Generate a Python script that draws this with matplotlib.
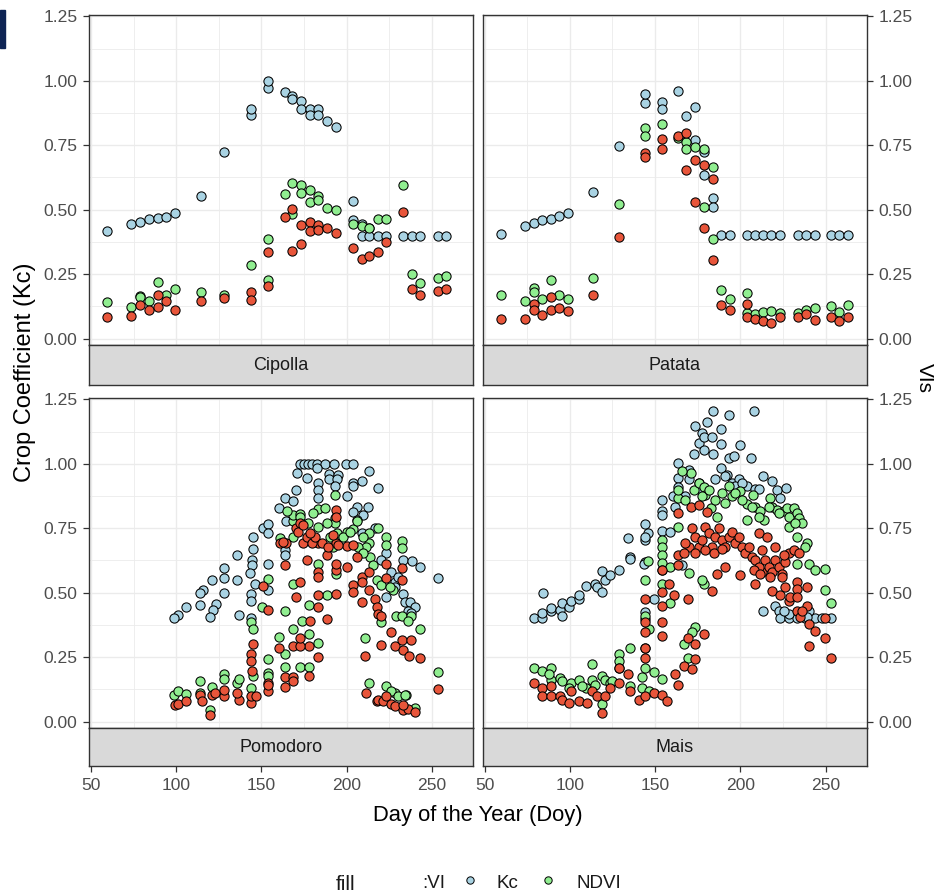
import matplotlib
matplotlib.use("Agg")
import matplotlib.pyplot as plt
from matplotlib.patches import Rectangle

plt.rcParams['font.family'] = ['Liberation Sans', 'DejaVu Sans']

# ---------------- data ----------------
crops = ["Cipolla", "Patata", "Pomodoro", "Mais"]
x_ticks = [50, 100, 150, 200, 250]
y_ticks = [0.0, 0.25, 0.5, 0.75, 1.0, 1.25]
y_tick_labels = ["0.00", "0.25", "0.50", "0.75", "1.00", "1.25"]
legend_labels = ["Kc", "NDVI"]

# Cipolla
cip_kc_doy = [59.4, 73.4, 78.5, 83.8, 89.1, 93.9, 99.2, 114.5, 128.3, 143.8, 143.8, 153.9, 153.9, 163.9, 168.2, 168.2,
              173.2, 173.2, 178.5, 178.5, 183.4, 183.4, 188.5, 193.6, 203.9, 203.9, 208.8, 213.3, 208.8, 213.3, 218.6,
              223.4, 233.2, 238.5, 243.4, 253.7, 258.6]
cip_kc = [0.418, 0.444, 0.453, 0.463, 0.467, 0.473, 0.486, 0.554, 0.722, 0.867, 0.890, 0.970, 1.000, 0.955, 0.942, 0.929,
          0.920, 0.890, 0.890, 0.867, 0.890, 0.867, 0.842, 0.820, 0.532, 0.459, 0.445, 0.430, 0.398, 0.398, 0.398,
          0.398, 0.398, 0.398, 0.398, 0.398, 0.398]
cip_ndvi_doy = [59.4, 73.4, 78.5, 78.5, 83.8, 89.1, 93.9, 99.2, 114.5, 128.3, 143.8, 153.9, 153.9, 163.9, 168.2, 168.2,
                173.2, 173.2, 178.5, 178.5, 183.4, 183.4, 188.5, 193.6, 203.9, 208.8, 213.3, 218.6, 223.4, 233.2, 238.5,
                243.4, 253.7, 258.6]
cip_ndvi = [0.140, 0.123, 0.166, 0.160, 0.144, 0.220, 0.169, 0.191, 0.179, 0.169, 0.285, 0.388, 0.226, 0.560, 0.602, 0.483,
            0.595, 0.563, 0.578, 0.528, 0.554, 0.538, 0.505, 0.498, 0.444, 0.437, 0.428, 0.463, 0.463, 0.595, 0.250,
            0.215, 0.233, 0.243]
cip_evi_doy = [59.4, 73.4, 78.5, 83.8, 89.1, 89.1, 93.9, 99.2, 114.5, 128.3, 143.8, 143.8, 153.9, 153.9, 163.9, 168.2,
               168.2, 173.2, 173.2, 178.5, 178.5, 183.4, 183.4, 188.5, 193.6, 203.9, 208.8, 213.3, 218.6, 223.4, 233.2,
               238.5, 243.4, 253.7, 258.6]
cip_evi = [0.082, 0.088, 0.129, 0.110, 0.123, 0.168, 0.145, 0.110, 0.144, 0.158, 0.179, 0.150, 0.202, 0.336, 0.470, 0.502,
           0.340, 0.440, 0.365, 0.453, 0.418, 0.440, 0.420, 0.428, 0.411, 0.353, 0.308, 0.321, 0.336, 0.376, 0.492,
           0.191, 0.168, 0.185, 0.191]

# Patata
pat_kc_doy = [59.4, 73.6, 78.9, 83.8, 88.9, 93.9, 99.0, 113.5, 128.7, 143.9, 143.9, 154.1, 154.1, 163.3, 168.4, 173.6,
              173.6, 178.5, 178.5, 183.8, 183.8, 188.7, 193.8, 203.9, 208.4, 213.3, 218.2, 223.4, 233.6, 238.7, 243.9,
              253.1, 258.0, 263.1]
pat_kc = [0.406, 0.436, 0.448, 0.458, 0.465, 0.475, 0.488, 0.568, 0.746, 0.914, 0.948, 0.919, 0.890, 0.959, 0.865, 0.897,
          0.770, 0.723, 0.636, 0.545, 0.510, 0.400, 0.400, 0.400, 0.400, 0.400, 0.400, 0.400, 0.400, 0.400, 0.400,
          0.400, 0.400, 0.400]
pat_ndvi_doy = [59.4, 73.6, 78.9, 78.9, 83.8, 88.9, 93.9, 99.0, 113.5, 128.7, 143.9, 143.9, 154.1, 163.3, 168.4, 168.4,
                173.6, 178.5, 178.5, 183.8, 183.8, 188.7, 193.8, 203.9, 203.9, 208.4, 213.3, 218.2, 223.4, 233.6, 238.7,
                243.9, 253.1, 258.0, 263.1]
pat_ndvi = [0.170, 0.146, 0.196, 0.181, 0.152, 0.228, 0.170, 0.152, 0.235, 0.521, 0.815, 0.787, 0.832, 0.777, 0.764, 0.735,
            0.742, 0.735, 0.510, 0.665, 0.387, 0.187, 0.152, 0.177, 0.101, 0.097, 0.103, 0.106, 0.099, 0.101, 0.110,
            0.119, 0.126, 0.103, 0.132]
pat_evi_doy = [59.4, 73.6, 78.9, 78.9, 83.8, 88.9, 88.9, 93.9, 99.0, 113.5, 128.7, 143.9, 143.9, 154.1, 154.1, 163.3,
               168.4, 168.4, 173.6, 173.6, 178.5, 178.5, 183.8, 183.8, 188.7, 193.8, 203.9, 203.9, 208.4, 213.3, 218.2,
               223.4, 233.6, 238.7, 243.9, 253.1, 258.0, 263.1]
pat_evi = [0.077, 0.077, 0.135, 0.112, 0.090, 0.112, 0.161, 0.119, 0.106, 0.170, 0.394, 0.719, 0.703, 0.774, 0.735, 0.787,
           0.797, 0.652, 0.693, 0.529, 0.674, 0.430, 0.619, 0.303, 0.132, 0.112, 0.135, 0.084, 0.077, 0.067, 0.062,
           0.084, 0.084, 0.094, 0.071, 0.084, 0.067, 0.084]

# Pomodoro
pom_kc_doy = [172.7, 175.0, 177.5, 179.9, 182.4, 187.3, 192.6, 199.4, 203.9, 170.7, 176.6, 182.4, 189.8, 195.1, 189.8,
              194.1, 213.3, 183.4, 183.4, 193.2, 203.5, 203.9, 208.8, 218.6, 170.3, 163.9, 168.8, 183.4, 200.0, 160.5,
              205.9, 212.7, 209.4, 203.9, 164.5, 150.8, 154.1, 154.1, 145.3, 145.3, 135.9, 144.3, 144.3, 154.1, 163.9,
              163.9, 143.0, 128.3, 128.3, 120.9, 135.5, 115.6, 114.1, 146.3, 154.1, 128.3, 143.8, 143.8, 105.9, 114.1,
              123.4, 121.5, 119.9, 100.8, 98.4, 137.1, 143.9, 216.6, 223.4, 228.3, 223.4, 233.2, 238.5, 243.4, 233.2,
              234.2, 237.1, 240.0, 253.7, 208.8, 205.9, 220.5, 226.4, 230.0, 236.1, 238.1, 228.3]
pom_kc = [1.000, 1.000, 1.000, 1.000, 1.000, 1.000, 1.000, 1.000, 1.000, 0.965, 0.945, 0.984, 0.961, 0.958, 0.941,
          0.941, 0.971, 0.926, 0.900, 0.913, 0.926, 0.915, 0.932, 0.906, 0.900, 0.867, 0.854, 0.867, 0.874, 0.828,
          0.834, 0.832, 0.802, 0.811, 0.776, 0.750, 0.767, 0.733, 0.717, 0.671, 0.645, 0.626, 0.606, 0.613, 0.665,
          0.645, 0.576, 0.597, 0.558, 0.548, 0.550, 0.511, 0.498, 0.532, 0.511, 0.498, 0.495, 0.469, 0.446, 0.454,
          0.456, 0.433, 0.407, 0.413, 0.402, 0.413, 0.402, 0.750, 0.652, 0.541, 0.482, 0.626, 0.623, 0.600, 0.495,
          0.463, 0.463, 0.446, 0.558, 0.730, 0.782, 0.626, 0.580, 0.560, 0.430, 0.420, 0.520]
pom_ndvi_doy = [98.4, 100.8, 105.9, 114.1, 114.1, 120.9, 119.9, 128.3, 128.3, 135.5, 137.1, 143.8, 145.3, 143.8, 144.9,
                150.2, 154.1, 154.1, 154.1, 154.1, 160.5, 163.9, 163.9, 163.9, 168.8, 168.8, 168.8, 168.8, 172.7, 173.6,
                172.7, 178.1, 178.1, 178.1, 183.0, 183.4, 183.4, 187.3, 188.3, 193.2, 193.2, 193.2, 193.8, 200.0, 203.9,
                205.9, 210.7, 213.3, 213.3, 213.3, 213.7, 218.2, 223.0, 223.0, 220.5, 227.3, 228.9, 232.8, 232.8, 232.8,
                238.1, 236.1, 243.0, 223.0, 228.3, 235.2, 240.0, 253.7, 209.8, 211.7, 168.8, 180.5, 188.3, 194.1, 198.0,
                202.0, 206.8, 209.8, 215.6, 217.6, 220.5, 225.4, 160.9, 164.8, 172.7, 177.5, 183.4, 190.2, 192.2, 226.4,
                230.0, 234.2]
pom_ndvi = [0.104, 0.117, 0.107, 0.159, 0.111, 0.133, 0.046, 0.183, 0.166, 0.150, 0.166, 0.130, 0.176, 0.385, 0.359,
            0.443, 0.241, 0.189, 0.176, 0.554, 0.329, 0.261, 0.213, 0.430, 0.532, 0.359, 0.776, 0.802, 0.806, 0.389,
            0.211, 0.454, 0.339, 0.211, 0.613, 0.306, 0.824, 0.828, 0.489, 0.880, 0.789, 0.769, 0.574, 0.737, 0.746,
            0.776, 0.326, 0.150, 0.730, 0.691, 0.639, 0.750, 0.717, 0.684, 0.385, 0.511, 0.411, 0.701, 0.674, 0.411,
            0.411, 0.389, 0.359, 0.137, 0.111, 0.104, 0.052, 0.193, 0.717, 0.678, 0.717, 0.808, 0.769, 0.730, 0.717,
            0.737, 0.678, 0.652, 0.606, 0.548, 0.528, 0.522, 0.711, 0.815, 0.795, 0.769, 0.756, 0.717, 0.678, 0.117,
            0.098, 0.104]
pom_evi_doy = [99.4, 100.8, 105.9, 114.1, 115.0, 119.9, 120.9, 122.9, 128.3, 128.3, 137.1, 135.5, 143.8, 143.8, 146.9,
               143.8, 143.8, 145.3, 144.3, 154.1, 154.1, 154.1, 150.8, 154.1, 160.5, 163.9, 163.9, 163.9, 164.5, 168.4,
               168.8, 168.4, 170.3, 172.7, 170.3, 172.7, 174.6, 176.6, 178.1, 178.1, 172.7, 172.7, 178.5, 183.4, 183.4,
               183.4, 183.4, 183.4, 183.4, 188.3, 188.3, 193.8, 193.8, 193.8, 193.8, 193.8, 193.8, 200.0, 200.0, 203.5,
               203.5, 203.5, 205.9, 208.8, 208.8, 208.8, 210.7, 213.3, 213.3, 216.6, 217.6, 218.6, 220.5, 220.5, 223.0,
               223.0, 226.4, 228.3, 232.8, 232.8, 232.8, 233.2, 236.7, 238.1, 243.4, 253.7, 211.7, 217.6, 218.6, 221.5,
               223.4, 226.4, 228.3, 233.2, 236.1, 240.0, 233.2, 171.7, 174.2, 176.6, 179.5, 181.4, 185.4, 189.3, 195.1,
               160.9, 162.9, 178.5, 192.2]
pom_evi = [0.065, 0.068, 0.081, 0.104, 0.081, 0.026, 0.104, 0.111, 0.098, 0.124, 0.085, 0.111, 0.072, 0.098, 0.100,
           0.261, 0.235, 0.300, 0.196, 0.117, 0.150, 0.141, 0.524, 0.433, 0.287, 0.133, 0.172, 0.606, 0.691, 0.172,
           0.156, 0.293, 0.482, 0.541, 0.750, 0.769, 0.691, 0.628, 0.293, 0.176, 0.293, 0.326, 0.391, 0.489, 0.443,
           0.580, 0.561, 0.250, 0.691, 0.398, 0.645, 0.821, 0.795, 0.495, 0.589, 0.613, 0.691, 0.681, 0.600, 0.684,
           0.528, 0.502, 0.639, 0.561, 0.541, 0.463, 0.254, 0.580, 0.511, 0.476, 0.443, 0.417, 0.411, 0.296, 0.613,
           0.558, 0.349, 0.293, 0.316, 0.597, 0.550, 0.276, 0.254, 0.316, 0.245, 0.128, 0.111, 0.078, 0.085, 0.078,
           0.098, 0.068, 0.059, 0.046, 0.050, 0.039, 0.063, 0.737, 0.763, 0.717, 0.691, 0.717, 0.691, 0.678, 0.684,
           0.691, 0.698, 0.733, 0.724]

# Mais
mai_kc_doy = [78.9, 83.8, 83.8, 84.2, 89.1, 89.1, 94.5, 95.5, 95.5, 99.4, 100.4, 105.3, 105.3, 109.6, 114.6, 116.0,
              118.9, 118.9, 120.9, 123.8, 128.7, 134.0, 135.5, 135.5, 143.9, 145.9, 143.9, 143.9, 143.9, 143.4, 143.9,
              143.9, 149.2, 154.1, 154.1, 154.1, 154.1, 159.0, 160.4, 163.5, 163.5, 163.5, 165.8, 169.7, 172.7, 173.6,
              175.6, 177.5, 178.5, 180.5, 178.5, 184.0, 183.4, 184.0, 188.7, 188.7, 193.2, 193.2, 196.1, 200.0, 188.9,
              192.2, 195.1, 199.0, 203.9, 207.8, 206.4, 208.8, 211.1, 213.1, 218.6, 221.5, 223.4, 226.8, 213.1, 220.5,
              222.5, 223.4, 228.3, 233.2, 238.1, 243.9, 247.9, 253.1, 169.7, 175.6, 177.5, 185.4, 191.2, 197.1, 201.0,
              167.8, 161.9, 240.0, 239.1, 228.3, 225.4]
mai_kc = [0.402, 0.402, 0.421, 0.499, 0.428, 0.441, 0.433, 0.411, 0.459, 0.446, 0.469, 0.476, 0.489, 0.524, 0.532, 0.522,
          0.502, 0.584, 0.550, 0.567, 0.587, 0.711, 0.639, 0.630, 0.767, 0.733, 0.704, 0.714, 0.619, 0.613, 0.424,
          0.398, 0.476, 0.860, 0.815, 0.802, 0.741, 0.737, 0.874, 1.001, 0.945, 0.909, 0.606, 0.975, 1.036, 1.147,
          1.082, 1.121, 1.102, 1.160, 1.053, 1.206, 1.102, 1.036, 1.134, 1.076, 1.189, 1.023, 1.030, 1.072, 0.984,
          0.958, 0.926, 0.939, 0.913, 1.206, 1.023, 0.902, 0.902, 0.952, 0.932, 0.900, 0.867, 0.906, 0.428, 0.450,
          0.430, 0.402, 0.402, 0.402, 0.402, 0.402, 0.402, 0.402, 0.939, 0.926, 0.900, 0.939, 0.952, 0.913, 0.926,
          0.874, 0.834, 0.430, 0.404, 0.417, 0.430]
mai_ndvi_doy = [78.9, 83.8, 89.1, 89.1, 94.5, 95.5, 100.4, 105.3, 109.6, 113.1, 113.1, 118.9, 118.9, 120.9, 123.8, 128.7,
                128.7, 128.7, 135.5, 135.5, 142.4, 143.9, 143.9, 143.9, 146.3, 143.9, 145.9, 149.2, 154.1, 154.1, 154.1,
                154.1, 154.1, 154.1, 154.1, 159.0, 159.0, 163.5, 163.5, 163.5, 166.8, 169.7, 171.3, 172.7, 175.6, 178.5,
                178.5, 173.6, 171.7, 169.3, 179.5, 183.0, 186.3, 189.3, 193.2, 195.1, 200.0, 203.9, 203.9, 207.2, 208.4,
                211.7, 213.7, 217.6, 218.6, 221.5, 225.4, 227.3, 228.3, 231.3, 233.2, 234.2, 236.1, 233.2, 239.1, 240.0,
                243.9, 249.8, 249.8, 253.1, 233.2, 238.1, 167.8, 177.5, 181.4, 185.4, 191.2, 197.1, 201.0, 206.8, 210.7,
                216.6, 222.5, 228.3, 232.2, 87.7, 99.4, 107.2, 115.0, 124.8, 142.4, 146.3, 177.5, 165.8]
mai_ndvi = [0.206, 0.196, 0.206, 0.163, 0.170, 0.156, 0.150, 0.163, 0.130, 0.222, 0.163, 0.176, 0.068, 0.163, 0.150,
            0.261, 0.235, 0.209, 0.287, 0.137, 0.172, 0.209, 0.287, 0.411, 0.359, 0.548, 0.623, 0.193, 0.167, 0.704,
            0.678, 0.645, 0.615, 0.587, 0.535, 0.600, 0.459, 0.756, 0.867, 0.900, 0.300, 0.576, 0.965, 0.900, 0.926,
            0.910, 0.535, 0.368, 0.349, 0.248, 0.880, 0.828, 0.795, 0.887, 0.915, 0.874, 0.893, 0.845, 0.782, 0.880,
            0.834, 0.815, 0.782, 0.867, 0.834, 0.821, 0.815, 0.828, 0.795, 0.828, 0.808, 0.789, 0.772, 0.613, 0.691,
            0.613, 0.587, 0.593, 0.511, 0.459, 0.717, 0.678, 0.860, 0.874, 0.900, 0.860, 0.847, 0.887, 0.860, 0.834,
            0.795, 0.834, 0.808, 0.756, 0.769, 0.183, 0.130, 0.137, 0.143, 0.156, 0.130, 0.117, 0.548, 0.971]
mai_evi_doy = [78.9, 83.8, 83.8, 89.1, 89.1, 94.5, 95.5, 99.4, 100.4, 105.3, 110.2, 113.1, 116.0, 118.9, 120.9, 123.8,
               128.7, 128.7, 134.2, 135.5, 140.8, 143.9, 143.9, 143.9, 143.9, 143.9, 143.9, 149.2, 154.1, 157.0, 154.1,
               154.1, 154.1, 154.1, 154.1, 158.0, 160.9, 161.9, 163.5, 163.5, 163.5, 163.5, 166.8, 169.3, 169.3, 171.7,
               173.2, 173.6, 169.7, 171.3, 176.0, 178.5, 180.5, 183.4, 186.3, 191.2, 200.0, 208.8, 212.7, 218.6, 223.4,
               228.3, 233.2, 233.2, 239.1, 239.1, 233.2, 235.2, 240.0, 243.9, 240.0, 249.8, 249.8, 253.1, 167.8, 171.7,
               173.6, 175.6, 177.5, 179.5, 181.4, 183.4, 185.4, 187.3, 189.3, 191.2, 193.2, 195.1, 197.1, 199.0, 201.0,
               202.9, 204.9, 206.8, 208.8, 210.7, 212.7, 214.6, 216.6, 218.6, 220.5, 222.5, 224.4, 226.4, 228.3, 231.3,
               234.2, 166.8, 173.6, 179.5, 184.4, 189.3, 207.8, 211.7, 217.6, 224.4, 226.4, 229.3, 233.2, 236.1, 210.7,
               215.6, 220.5, 225.4]
mai_evi = [0.150, 0.130, 0.098, 0.098, 0.137, 0.098, 0.085, 0.072, 0.117, 0.078, 0.072, 0.117, 0.098, 0.033, 0.098,
           0.130, 0.150, 0.209, 0.183, 0.117, 0.085, 0.098, 0.248, 0.287, 0.385, 0.349, 0.476, 0.111, 0.104, 0.078,
           0.332, 0.385, 0.450, 0.502, 0.587, 0.535, 0.489, 0.183, 0.141, 0.606, 0.645, 0.808, 0.215, 0.476, 0.326,
           0.202, 0.300, 0.241, 0.678, 0.834, 0.841, 0.339, 0.811, 0.508, 0.574, 0.600, 0.567, 0.532, 0.580, 0.508,
           0.489, 0.469, 0.541, 0.515, 0.522, 0.450, 0.430, 0.404, 0.378, 0.352, 0.293, 0.326, 0.402, 0.245, 0.691,
           0.750, 0.717, 0.678, 0.704, 0.756, 0.730, 0.678, 0.717, 0.750, 0.704, 0.678, 0.717, 0.737, 0.691, 0.717,
           0.678, 0.652, 0.678, 0.639, 0.626, 0.600, 0.665, 0.626, 0.600, 0.580, 0.626, 0.600, 0.574, 0.619, 0.652,
           0.665, 0.652, 0.652, 0.652, 0.665, 0.652, 0.671, 0.587, 0.574, 0.561, 0.561, 0.522, 0.482, 0.482, 0.430,
           0.730, 0.717, 0.678, 0.645]

series = {
    "Cipolla": [(cip_kc_doy, cip_kc), (cip_ndvi_doy, cip_ndvi), (cip_evi_doy, cip_evi)],
    "Patata": [(pat_kc_doy, pat_kc), (pat_ndvi_doy, pat_ndvi), (pat_evi_doy, pat_evi)],
    "Pomodoro": [(pom_kc_doy, pom_kc), (pom_ndvi_doy, pom_ndvi), (pom_evi_doy, pom_evi)],
    "Mais": [(mai_kc_doy, mai_kc), (mai_ndvi_doy, mai_ndvi), (mai_evi_doy, mai_evi)],
}
colors = ["#A9D3E3", "#90EE90", "#E8553A"]  # Kc, NDVI, EVI

# ---------------- layout ----------------
W, H = 936, 894
fig = plt.figure(figsize=(W / 100, H / 100), dpi=100)


def rect(x0, x1, y0, y1):
    return [x0 / W, 1 - y1 / H, (x1 - x0) / W, (y1 - y0) / H]


cols = [(89.3, 472.7), (482.7, 866.7)]
rows = [((15, 345), (345, 385)), ((398, 728), (728, 766))]
XLIM = (48.9, 274.1)
YLIM = (-0.025, 1.255)
GRID = "#EBEBEB"
BORDER = "#333333"
TICKC = "#4D4D4D"

for i, crop in enumerate(crops):
    r, c = divmod(i, 2)
    (py0, py1), (sy0, sy1) = rows[r]
    x0, x1 = cols[c]
    ax = fig.add_axes(rect(x0, x1, py0, py1))
    sax = fig.add_axes(rect(x0, x1, sy0, sy1))

    ax.set_xlim(*XLIM)
    ax.set_ylim(*YLIM)
    ax.set_xticks(x_ticks)
    ax.set_xticks([75, 125, 175, 225], minor=True)
    ax.set_yticks(y_ticks)
    ax.set_yticks([0.125, 0.375, 0.625, 0.875, 1.125], minor=True)
    ax.grid(True, which="major", color=GRID, lw=1.0, zorder=0)
    ax.grid(True, which="minor", color=GRID, lw=0.6, zorder=0)
    ax.set_axisbelow(True)
    ax.set_yticklabels(y_tick_labels)
    ax.tick_params(axis="x", which="both", bottom=False, labelbottom=False)
    ax.tick_params(axis="y", which="minor", left=False, right=False)
    if c == 0:
        ax.tick_params(axis="y", which="major", left=True, right=False, labelleft=True, labelright=False,
                       length=4.5, width=0.9, color=BORDER, labelcolor=TICKC, labelsize=12.6, pad=4)
    else:
        ax.tick_params(axis="y", which="major", left=False, right=True, labelleft=False, labelright=True,
                       length=4.5, width=0.9, color=BORDER, labelcolor=TICKC, labelsize=12.6, pad=4)
    for sp in ax.spines.values():
        sp.set_color(BORDER)
        sp.set_linewidth(1.0)

    for k, (dx, dy) in enumerate(series[crop]):
        ax.scatter(dx, dy, s=44, facecolor=colors[k], edgecolor="black", linewidths=0.75, zorder=3 + k)

    sax.set_facecolor("#D9D9D9")
    sax.set_xlim(*XLIM)
    sax.set_yticks([])
    for sp in sax.spines.values():
        sp.set_color(BORDER)
        sp.set_linewidth(1.0)
    sax.text(0.5, 0.5, crop, transform=sax.transAxes, ha="center", va="center",
             fontsize=13, color="#1A1A1A")
    if r == 1:
        sax.set_xticks(x_ticks)
        sax.tick_params(axis="x", length=4.5, width=0.9, color=BORDER, labelcolor=TICKC, labelsize=12.6, pad=4)
    else:
        sax.set_xticks([])

# axis titles
fig.text(478 / W, 1 - 816 / H, "Day of the Year (Doy)", ha="center", va="center", fontsize=15.8, color="black")
fig.text(25 / W, 1 - 372 / H, "Crop Coefficient (Kc)", ha="center", va="center", rotation=90,
         fontsize=17, color="black")
fig.text(924 / W, 1 - 378 / H, "VIs", ha="center", va="center", rotation=270, fontsize=15, color="black")

# overlay (legend + corner artifact)
ov = fig.add_axes([0, 0, 1, 1], facecolor="none")
ov.set_xlim(0, W)
ov.set_ylim(H, 0)
ov.axis("off")
ov.add_patch(Rectangle((0, 10), 5, 38, color="#0E2454"))
ov.text(336, 884, "fill", ha="left", va="center", fontsize=15, color="#1A1A1A")
ov.text(422, 884, ":VI", ha="left", va="center", fontsize=13.5, color="#1A1A1A")
ov.scatter([470], [880], s=28, facecolor=colors[0], edgecolor="black", linewidths=0.7)
ov.text(497, 884, legend_labels[0], ha="left", va="center", fontsize=13.5, color="#1A1A1A")
ov.scatter([548], [880], s=28, facecolor=colors[1], edgecolor="black", linewidths=0.7)
ov.text(576, 884, legend_labels[1], ha="left", va="center", fontsize=13.5, color="#1A1A1A")

fig.savefig("out.png", dpi=100)
